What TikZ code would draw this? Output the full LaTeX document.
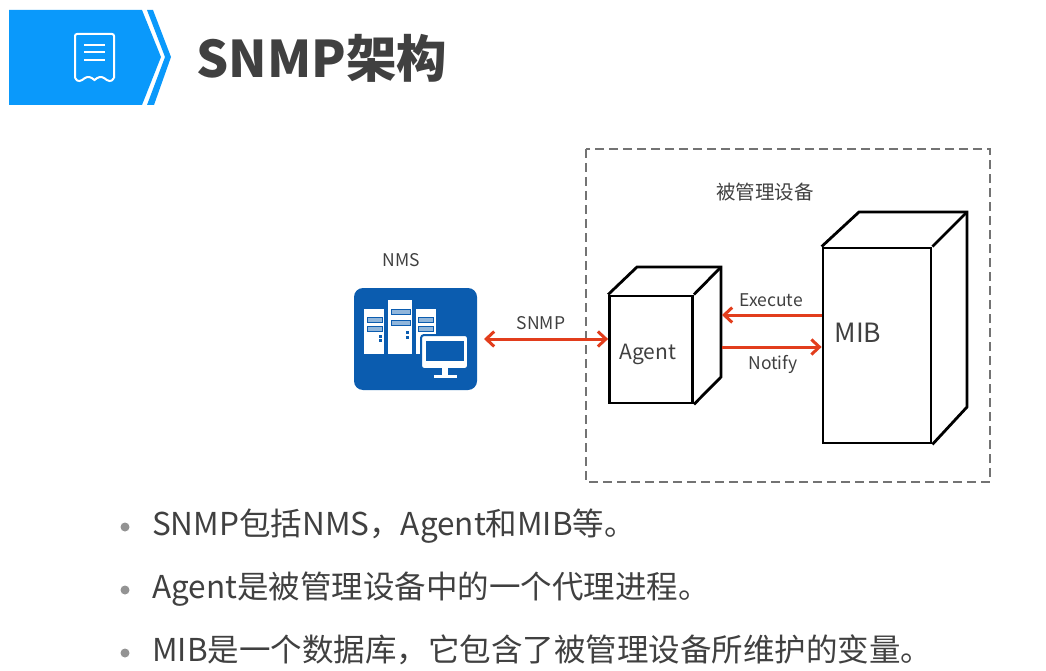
\documentclass[tikz,border=0pt]{standalone}
\usepackage{fontspec}
\setmainfont{Noto Sans CJK SC}
\usetikzlibrary{arrows.meta}
\definecolor{bannerblue}{HTML}{0A99FB}
\definecolor{tileblue}{HTML}{0B5CAF}
\definecolor{darktext}{HTML}{404040}
\definecolor{arrowred}{HTML}{E23D1C}
\tikzset{
  box/.style={draw=black, line width=2.8pt, line join=miter, fill=white, inner sep=0pt, minimum width=#1},
  face/.style={draw=black, line width=2.8pt, line join=miter},
  label/.style={text=darktext, font=\fontsize{17.5}{20}\selectfont, inner sep=0pt},
  bullet/.style={text=darktext, font=\fontsize{31.5}{36}\selectfont, anchor=base west, inner sep=0pt},
  dot/.style={circle, fill=gray!85, minimum size=9pt, inner sep=0pt},
  link/.style={draw=arrowred, line width=3pt},
  barb/.tip={Straight Barb[length=8pt,width=15pt,line width=3pt]},
  slot/.style={draw=tileblue, line width=1pt, fill=tileblue!45},
  hw/.style={fill=white, draw=none}
}
\begin{document}
\begin{tikzpicture}[x=1pt,y=-1pt]
  \useasboundingbox (0,0) rectangle (1046,671);

  \fill[bannerblue] (9,10)--(142,10)--(161,57)--(142,105)--(9,105)--cycle;
  \fill[bannerblue] (147,10)--(153,10)--(171,57)--(154,105)--(147,105)--(165,57)--cycle;
  \draw[white, line width=2pt, rounded corners=2pt]
    (75,78)--(75,34)--(114,34)--(114,78);
  \draw[white, line width=2pt, line cap=round]
    (75,78) .. controls (78,83) and (81,81) .. (85,78)
    .. controls (88,76) and (91,77) .. (94.5,80)
    .. controls (98,77) and (101,76) .. (104,78)
    .. controls (108,81) and (111,83) .. (114,78);
  \foreach \y in {45,52,60} {
    \draw[white, line width=2pt] (84,\y)--(105,\y);
  }
  \node[text=darktext, font=\fontsize{50.5}{54}\selectfont\bfseries, anchor=west, inner sep=0pt] (title) at (196,58) {SNMP架构};

  \draw[gray!90!black, line width=1.6pt, dash pattern=on 9pt off 5pt] (586,149) rectangle (990,482);
  \node[label, font=\fontsize{19.5}{22}\selectfont] (devlabel) at (765,192) {被管理设备};

  \node[fill=tileblue, rounded corners=9pt, minimum width=123pt, minimum height=102pt, inner sep=0pt] (nms) at (415.5,339) {};
  \node[label] (nmslabel) at (401,260) {NMS};
  \foreach \x/\w/\t in {364/20/309,388/24/300,416/20/309} {
    \fill[hw] (\x,\t) rectangle ({\x+\w},354);
  }
  \foreach \x/\w/\ya/\yb in {367/15/317/326,391/19/309/320,418/15/317/326} {
    \draw[slot] (\x,\ya) rectangle ({\x+\w},{\ya+5});
    \draw[slot] (\x,\yb) rectangle ({\x+\w},{\yb+5});
  }
  \foreach \x/\y in {379/335,379/339,406/331,406/336} {
    \fill[tileblue] (\x,\y) rectangle ({\x+3},{\y+2.5});
  }
  \draw[draw=tileblue, line width=2pt, fill=white, rounded corners=3pt] (421,335) rectangle (468,369);
  \fill[tileblue] (426,341) rectangle (464,361);
  \fill[white] (459,364) circle (1.2pt);
  \fill[white] (442,368) rectangle (448,375);
  \fill[white] (434,375) rectangle (457,378);

  \node[box=83pt, minimum height=107pt] (agent) at (651,349.5) {};
  \node[box=108pt, minimum height=195pt] (mib) at (877,345.5) {};
  \coordinate (agentbacka) at (637,267);
  \coordinate (agentbackb) at (721,267);
  \coordinate (agentbackc) at (721,377);
  \coordinate (mibbacka) at (859,212);
  \coordinate (mibbackb) at (967,212);
  \coordinate (mibbackc) at (967,407);
  \draw[face] (agent.north west)--(agentbacka)--(agentbackb)--(agentbackc)--(agent.south east);
  \draw[face] (agent.north east)--(agentbackb);
  \draw[face] (mib.north west)--(mibbacka)--(mibbackb)--(mibbackc)--(mib.south east);
  \draw[face] (mib.north east)--(mibbackb);

  \node[label, font=\fontsize{21}{24}\selectfont] (agenttext) at (648,354) {Agent};
  \node[label, font=\fontsize{26.5}{30}\selectfont] (mibtext) at (858,333) {MIB};

  \coordinate (snmpstart) at (484,339);
  \coordinate (exestart) at (mib.west |- 0,315);
  \coordinate (exeend) at (722,315);
  \coordinate (notstart) at (722,347);
  \coordinate (notend) at (mib.west |- 0,347);
  \draw[link, {barb}-{barb}] (snmpstart)--(agent.west |- snmpstart);
  \draw[link, -{barb}] (exestart)--(exeend);
  \draw[link, -{barb}] (notstart)--(notend);
  \node[label] (snmplabel) at (541,323) {SNMP};
  \node[label] (exelabel) at (771,300) {Execute};
  \node[label] (notlabel) at (773,364) {Notify};

  \foreach \y/\s in {535.5/{SNMP包括NMS，Agent和MIB等。},598.5/{Agent是被管理设备中的一个代理进程。},661.5/{MIB是一个数据库，它包含了被管理设备所维护的变量。}} {
    \node[dot] at (125,{\y-8.5}) {};
    \node[bullet] at (152,\y) {\s};
  }
\end{tikzpicture}
\end{document}
